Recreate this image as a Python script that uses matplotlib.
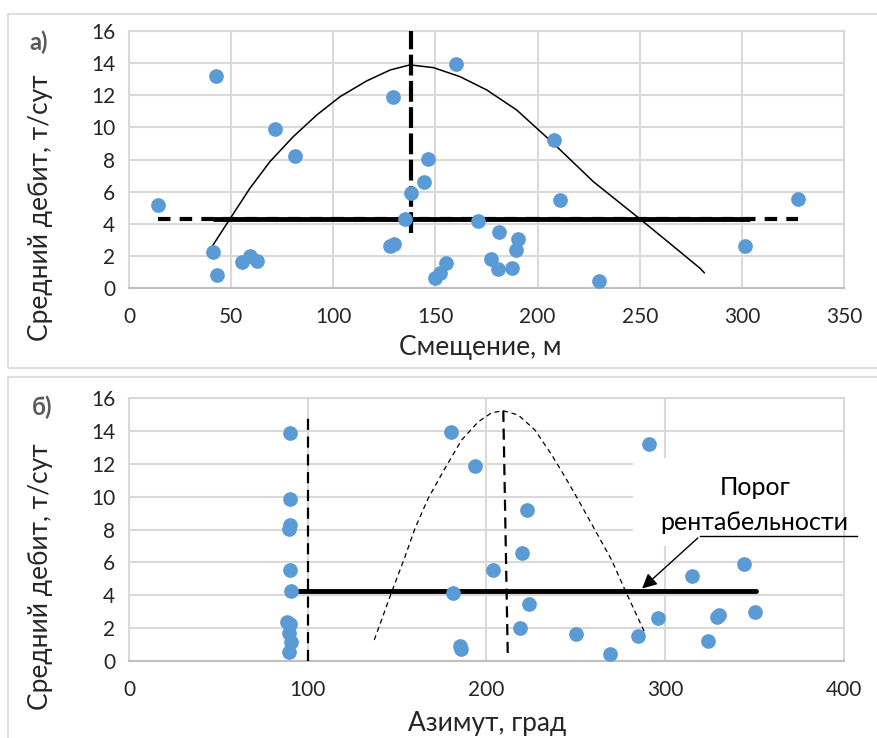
import matplotlib
matplotlib.use("Agg")
import matplotlib.pyplot as plt
from matplotlib.patches import Rectangle

plt.rcParams['font.family'] = ['Lato', 'DejaVu Sans']

# ---------------- data: panel a (offset) ----------------
offset_x = [14, 42.6, 41, 43, 55.3, 59.2, 62.8, 71.3, 81.1, 129.4, 127.8, 129.7,
            135.2, 138.2, 144.6, 146.4, 155, 152.2, 149.8, 159.9, 171, 181,
            190.6, 189.3, 177, 180.8, 187.5, 208, 211.1, 230, 301.5, 327.3]
offset_rate = [5.17, 13.2, 2.26, 0.79, 1.64, 1.99, 1.70, 9.88, 8.24, 11.87, 2.6, 2.76,
               4.30, 5.94, 6.62, 8.05, 1.56, 0.91, 0.60, 13.95, 4.15, 3.47,
               3.03, 2.37, 1.81, 1.16, 1.22, 9.19, 5.48, 0.46, 2.64, 5.54]

trend_a_x = [40.9, 49.4, 59.2, 69, 80.4, 91.9, 103.3, 116.3, 127.8, 137.5, 149, 162,
             175.1, 189.8, 207.7, 227.3, 250.1, 265, 279.5, 281.6]
trend_a_y = [2.63, 4.30, 6.21, 7.87, 9.42, 10.77, 11.91, 12.89, 13.57, 13.89, 13.72, 13.16,
             12.33, 11.08, 9.01, 6.62, 4.30, 2.75, 1.23, 0.95]

threshold_a = 4.3
threshold_a_full = [14, 327.3]
threshold_a_solid = [41, 304]
optimum_a_x = 138.2
optimum_a_y = [3.45, 16]

# ---------------- data: panel b (azimuth) ----------------
azimuth_x = [90.2, 90.1, 89.8, 89.5, 90.1, 90.6, 88.2, 90.1, 89.3, 90.9, 89.3,
             180.1, 193.4, 290.7, 222.7, 220, 203.6, 181.4, 224, 218.7, 185.4, 186,
             250, 269, 284.6, 295.8, 315.2, 328.8, 329.9, 324, 344, 350.4]
azimuth_rate = [13.89, 9.89, 8.26, 8.06, 5.52, 4.26, 2.39, 2.25, 1.73, 1.18, 0.55,
                13.97, 11.86, 13.2, 9.2, 6.6, 5.54, 4.16, 3.45, 1.99, 0.9, 0.75,
                1.62, 0.45, 1.54, 2.64, 5.2, 2.7, 2.8, 1.24, 5.93, 2.97]

trend_b_x = [137.2, 147, 154.4, 160, 167.4, 176.8, 186.1, 195.4, 202.9, 209.4, 217.8,
             227.1, 236.5, 243.9, 251.4, 260.7, 270, 277.5, 288.7]
trend_b_y = [1.28, 4.22, 6.35, 8.08, 9.91, 11.74, 13.46, 14.57, 15.12, 15.24, 14.98,
             14.07, 12.55, 11.22, 9.8, 7.98, 6.15, 4.32, 1.69]

threshold_b = 4.28
threshold_b_span = [94.7, 351]
vline_b1 = [100, [0, 15.1]]
vline_b2 = [[209.4, 211.9], [15.24, 0.3]]

# ---------------- figure ----------------
W, H = 877, 738
fig = plt.figure(figsize=(W / 100, H / 100), dpi=100)

def frac(x0, y0, x1, y1):
    return [x0 / W, 1 - y1 / H, (x1 - x0) / W, (y1 - y0) / H]

grid_c = '#d9d9d9'
blue = '#5b9bd5'
tick_c = '#262626'

# chart area borders
fig.add_artist(Rectangle((8 / W, 1 - 368 / H), (W + 10) / W, (368 - 14) / H,
                         transform=fig.transFigure, fill=False, edgecolor='#d9d9d9', lw=1.2))
fig.add_artist(Rectangle((8 / W, 1 - (H + 10) / H), (W + 10) / W, (H + 10 - 377) / H,
                         transform=fig.transFigure, fill=False, edgecolor='#d9d9d9', lw=1.2))


def style_axes(ax, xmax, xstep):
    ax.set_xlim(0, xmax)
    ax.set_ylim(0, 16)
    ax.set_xticks(range(0, xmax + 1, xstep))
    ax.set_yticks(range(0, 17, 2))
    ax.grid(True, color=grid_c, lw=1.5, zorder=0)
    ax.set_axisbelow(True)
    for s in ['top', 'right', 'left']:
        ax.spines[s].set_color(grid_c)
        ax.spines[s].set_linewidth(1.5)
    ax.spines['bottom'].set_color('#bfbfbf')
    ax.spines['bottom'].set_linewidth(1.5)
    ax.tick_params(length=0, labelsize=15, colors=tick_c, pad=10)
    ax.tick_params(axis='x', pad=14)


# ---- panel a ----
ax1 = fig.add_axes(frac(129, 31, 844, 288))
style_axes(ax1, 350, 50)
ax1.plot(threshold_a_full, [threshold_a] * 2, color='black', lw=3, ls=(0, (3, 2.2)), zorder=3)
ax1.plot(threshold_a_solid, [threshold_a] * 2, color='black', lw=3.5, zorder=3,
         solid_capstyle='butt')
ax1.plot([optimum_a_x] * 2, optimum_a_y, color='black', lw=3, ls=(0, (5, 1.3)), zorder=3)
ax1.plot(trend_a_x, trend_a_y, color='black', lw=1.1, zorder=4, solid_joinstyle='round')
ax1.scatter(offset_x, offset_rate, s=112, color=blue, zorder=5, linewidths=0)

# ---- panel b ----
ax2 = fig.add_axes(frac(129, 398.3, 844, 661))
style_axes(ax2, 400, 100)
ax2.plot([vline_b1[0]] * 2, vline_b1[1], color='black', lw=1.6, ls=(0, (5, 3)), zorder=3)
ax2.plot(vline_b2[0], vline_b2[1], color='black', lw=1.6, ls=(0, (5, 3)), zorder=3)
ax2.plot(trend_b_x, trend_b_y, color='black', lw=0.9, ls=(0, (4, 3)), zorder=3)
ax2.plot(threshold_b_span, [threshold_b] * 2, color='black', lw=3.5, zorder=4,
         solid_capstyle='round')
ax2.add_patch(Rectangle((282, 7.0), 130, 5.36, facecolor='white', edgecolor='none',
                        zorder=2.5, clip_on=False))
ax2.scatter(azimuth_x, azimuth_rate, s=112, color=blue, zorder=5, linewidths=0)
ax2.text(350.2, 10.54, 'Порог', ha='center', va='center', fontsize=18, color='black', zorder=7)
ax2.text(349.7, 8.45, 'рентабельности', ha='center', va='center', fontsize=18,
         color='black', zorder=7)
ax2.plot([319.4, 407.3], [7.61, 7.61], color='black', lw=1, zorder=7, clip_on=False)
ax2.annotate('', xy=(285.9, 4.3), xytext=(319.4, 7.61),
             arrowprops=dict(arrowstyle='-|>', color='black', lw=1, mutation_scale=22),
             zorder=7)

# ---- labels ----
def ftext(x, y, s, **kw):
    fig.text(x / W, 1 - y / H, s, **kw)

ftext(480, 348, 'Смещение, м', ha='center', va='center', fontsize=19, color=tick_c)
ftext(487, 724, 'Азимут, град', ha='center', va='center', fontsize=19, color=tick_c)
ftext(41, 208, 'Средний дебит, т/сут', ha='center', va='center', fontsize=19,
      rotation=90, color=tick_c)
ftext(41, 577, 'Средний дебит, т/сут', ha='center', va='center', fontsize=19,
      rotation=90, color=tick_c)
ftext(39, 42, 'а)', ha='center', va='center', fontsize=17, fontweight='bold', color='#595959')
ftext(42, 407, 'б)', ha='center', va='center', fontsize=17, fontweight='bold', color='#595959')

fig.savefig('out.png', dpi=100)
